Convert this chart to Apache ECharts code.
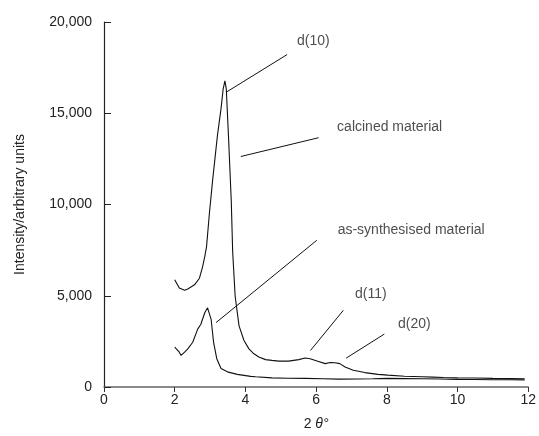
<!DOCTYPE html>
<html>
<head>
<meta charset="utf-8">
<script src="https://cdn.jsdelivr.net/npm/echarts@6/dist/echarts.min.js"></script>
<style>html,body{margin:0;padding:0;background:#fff;}#c{width:539px;height:436px;}</style>
</head>
<body>
<div id="c"></div>
<script>
var xTicks = [0, 2, 4, 6, 8, 10, 12];
var yTicks = [0, 5000, 10000, 15000, 20000];

var calcinedX = [2.00, 2.13, 2.28, 2.37, 2.56, 2.70, 2.79, 2.85, 2.90, 2.98, 3.07, 3.14, 3.21, 3.31, 3.37, 3.42, 3.46, 3.52, 3.56, 3.60, 3.64, 3.71, 3.82, 3.96, 4.10, 4.22, 4.38, 4.57, 4.75, 4.94, 5.22, 5.51, 5.69, 5.83, 6.07, 6.26, 6.40, 6.53, 6.67, 6.82, 7.05, 7.38, 7.75, 8.03, 8.5, 9.0, 9.3, 9.6, 10.0, 10.5, 11.0, 11.5, 11.9];
var calcinedY = [5880, 5420, 5300, 5370, 5600, 5960, 6600, 7140, 7680, 9480, 11280, 12540, 13800, 15240, 16320, 16770, 16320, 13800, 12000, 10200, 7400, 4970, 3350, 2550, 2090, 1850, 1640, 1500, 1460, 1420, 1420, 1500, 1590, 1550, 1400, 1280, 1340, 1330, 1280, 1100, 920, 790, 690, 650, 590, 560, 540, 520, 500, 490, 470, 460, 450];

var asX = [2.00, 2.13, 2.18, 2.28, 2.37, 2.51, 2.65, 2.74, 2.85, 2.93, 3.03, 3.10, 3.19, 3.31, 3.49, 3.77, 4.15, 4.29, 4.75, 5.20, 5.69, 6.20, 6.63, 7.20, 7.60, 8.03, 8.50, 9.00, 9.50, 10.00, 10.50, 11.00, 11.50, 11.90];
var asY = [2180, 1910, 1730, 1910, 2090, 2450, 3170, 3440, 4070, 4340, 3710, 2450, 1550, 1010, 830, 690, 580, 560, 500, 480, 470, 450, 430, 440, 450, 470, 460, 450, 440, 420, 410, 400, 400, 390];

var leaderLines = [
  [[5.18, 18215], [3.45, 16145]],
  [[6.07, 13660], [3.87, 12630]],
  [[6.02, 8040], [3.17, 3530]],
  [[6.77, 4200], [5.84, 2000]],
  [[7.93, 2900], [6.85, 1580]]
];
var labelNames = ['d(10)', 'calcined material', 'as-synthesised material', 'd(11)', 'd(20)'];
var labelX = [5.92, 8.08, 8.69, 7.55, 8.78];
var labelY = [18935, 14250, 8580, 5065, 3440];

function zip(a, b) { return a.map(function (v, i) { return [v, b[i]]; }); }
function fmt(v) { return String(v).replace(/\B(?=(\d{3})+(?!\d))/g, ','); }

var font = 'Liberation Sans';
var chart = echarts.init(document.getElementById('c'), null, {renderer: 'canvas'});
chart.setOption({
  animation: false,
  backgroundColor: '#fff',
  grid: {left: 104, right: 8, top: 22, bottom: 44, containLabel: false},
  xAxis: {
    type: 'value', min: xTicks[0], max: xTicks[xTicks.length - 1], interval: 2,
    name: '{a|2}{b| θ°}', nameLocation: 'middle', nameGap: 30,
    nameTextStyle: {rich: {a: {fontFamily: font, fontSize: 14, color: '#222'}, b: {fontFamily: font, fontSize: 14, fontStyle: 'italic', color: '#222'}}},
    axisLine: {lineStyle: {color: '#666', width: 1.5}},
    axisTick: {inside: false, length: 5, lineStyle: {color: '#333'}},
    axisLabel: {fontFamily: font, fontSize: 14, color: '#222', margin: 6},
    splitLine: {show: false}
  },
  yAxis: {
    type: 'value', min: yTicks[0], max: yTicks[yTicks.length - 1], interval: 5000,
    name: 'Intensity/arbitrary units', nameLocation: 'middle', nameGap: 77, nameRotate: 90,
    nameTextStyle: {fontFamily: font, fontSize: 14, color: '#222'},
    axisLine: {lineStyle: {color: '#222', width: 1.2}},
    axisTick: {inside: true, length: 7, lineStyle: {color: '#222'}},
    axisLabel: {fontFamily: font, fontSize: 14, color: '#222', margin: 12, formatter: function (v) { return fmt(v); }},
    splitLine: {show: false}
  },
  series: [
    {
      name: 'calcined', type: 'line', data: zip(calcinedX, calcinedY), symbol: 'none', smooth: false,
      lineStyle: {color: '#111', width: 1.1},
      markLine: {
        silent: true, symbol: ['none', 'none'], label: {show: false},
        lineStyle: {color: '#111', width: 1, type: 'solid'},
        data: leaderLines.map(function (l) { return [{coord: l[0]}, {coord: l[1]}]; })
      }
    },
    {
      name: 'as-synthesised', type: 'line', data: zip(asX, asY), symbol: 'none', smooth: false,
      lineStyle: {color: '#111', width: 1.1}
    },
    {
      name: 'labels', type: 'scatter', symbolSize: 1, itemStyle: {color: 'rgba(0,0,0,0)'},
      silent: true,
      data: labelNames.map(function (n, i) { return {name: n, value: [labelX[i], labelY[i]]}; }),
      label: {show: true, position: 'inside', formatter: '{b}', fontFamily: font, fontSize: 14, color: '#222'}
    }
  ]
});
</script>
</body>
</html>
